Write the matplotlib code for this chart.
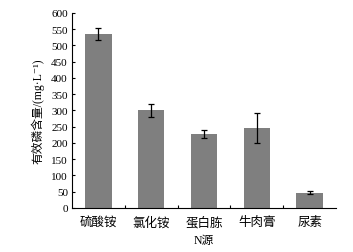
import numpy as np
import matplotlib
matplotlib.use("Agg")
import matplotlib.pyplot as plt

plt.rcParams['font.family'] = ['Liberation Serif', 'Noto Sans CJK SC', 'DejaVu Sans']
plt.rcParams['axes.unicode_minus'] = False

# data
sources = ['硫酸铵', '氯化铵', '蛋白胨', '牛肉膏', '尿素']
values = [535, 300, 228, 245, 47]
errors = [18, 21, 12, 46, 5]
yticks = list(range(0, 601, 50))

fig = plt.figure(figsize=(3.53, 2.53), dpi=100)
ax = fig.add_axes([0.204, 0.174, 0.748, 0.771])

x = np.arange(len(sources))
ax.bar(x, values, width=0.5, color='#7f7f7f', zorder=2)
ax.errorbar(x, values, yerr=errors, fmt='none', ecolor='black',
            elinewidth=0.9, capsize=2, capthick=0.9, zorder=3)

ax.set_xlim(-0.5, len(sources) - 0.5)
ax.set_ylim(0, 600)
ax.set_yticks(yticks)
ax.set_xticks(x)
ax.set_xticklabels(sources, fontsize=9)
ax.set_xticks(np.arange(0.5, len(sources) - 0.5, 1), minor=True)
ax.tick_params(axis='x', which='major', length=0, pad=6)
ax.tick_params(axis='x', which='minor', length=2.5, direction='in', width=0.8)
ax.tick_params(axis='y', direction='in', length=2.5, width=0.8, labelsize=8, pad=3)

for s in ['top', 'right']:
    ax.spines[s].set_visible(False)
for s in ['left', 'bottom']:
    ax.spines[s].set_linewidth(0.8)

ax.set_xlabel('N源', fontsize=8.5, labelpad=4)
ax.set_ylabel('有效磷含量/(mg·L⁻¹)', fontsize=8.5, labelpad=5)

fig.savefig('out.png', dpi=100)
